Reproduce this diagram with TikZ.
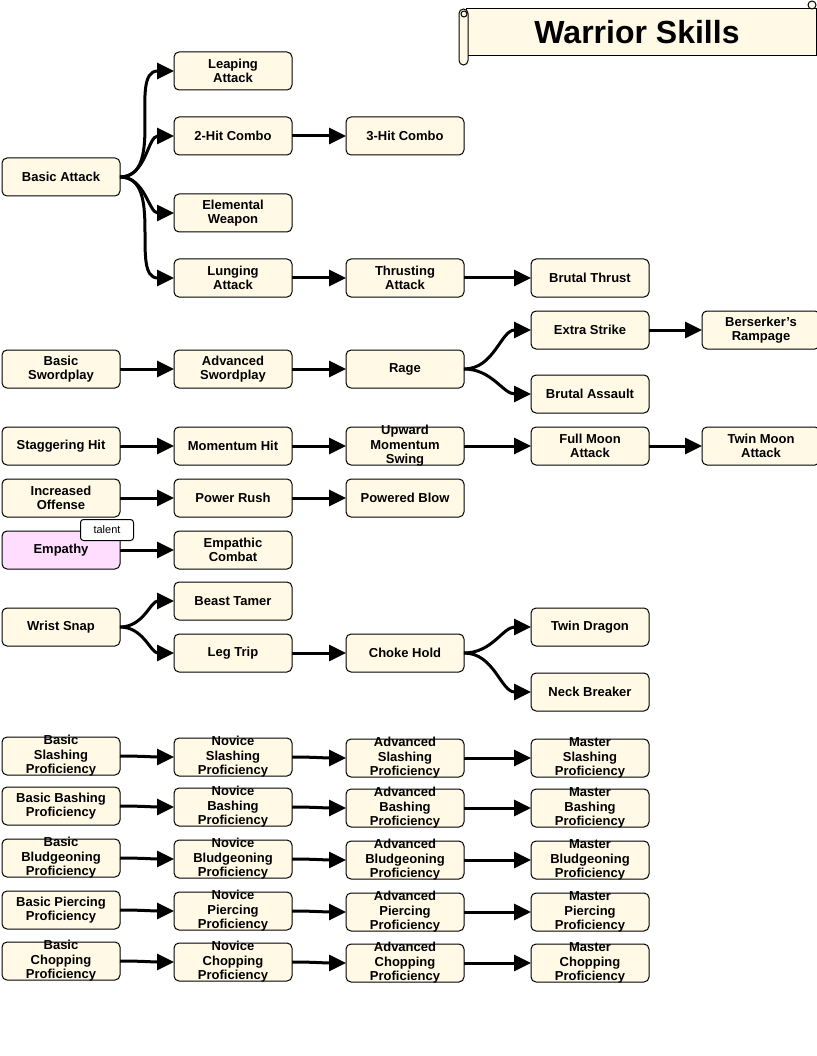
\documentclass[tikz,border=0pt]{standalone}
\usepackage{fontspec}
\setmainfont{Liberation Sans}
\usetikzlibrary{arrows.meta, positioning}
\definecolor{colorSkill}{HTML}{FFF9E6}
\definecolor{colorTalent}{HTML}{FFDDFF}
\newcommand{\tallText}[1]{\raisebox{-3.3pt}[0pt][0pt]{\begin{tabular}{@{}c@{}}#1\end{tabular}}}
\tikzset{skill/.style={draw, rounded corners=5pt, fill=colorSkill, line width=1pt, minimum width=118pt, minimum height=38pt, inner sep=1pt, outer sep=0pt, align=center, font=\bfseries\fontsize{13}{14.5}\selectfont}}
\tikzset{link/.style={line width=3pt, -{Triangle[length=17pt,width=16pt]}}}

\begin{document}
\begin{tikzpicture}[x=1pt, y=-1pt, node distance=54pt]
\useasboundingbox (0,0) rectangle (816,1056);
% title scroll
\draw[fill=colorSkill, line width=1pt] (466,9) -- (816,9) -- (816,56) -- (466,56) -- cycle;
\draw[fill=colorSkill, line width=1pt, rounded corners=4.5pt] (459,9) rectangle (468,65);
\draw[fill=colorSkill, line width=1pt] (464,14) circle (3);
\draw[fill=colorSkill, line width=1pt] (812,5) circle (4);
\node (title) at (637,32) {\fontsize{32}{36}\selectfont\bfseries Warrior Skills};
% basic attack
\node[skill] (basicAtk) at (61,177) {Basic Attack};
\node[skill] (leaping) at (233,71) {Leaping\\Attack};
\node[skill] (twoHit) at (233,136) {2-Hit Combo};
\node[skill, right=of twoHit] (threeHit) {3-Hit Combo};
\node[skill] (elemental) at (233,213) {Elemental\\Weapon};
\node[skill] (lunging) at (233,278) {Lunging\\Attack};
\node[skill, right=of lunging] (thrusting) {Thrusting\\Attack};
\node[skill, right=67pt of thrusting] (brutalThrust) {Brutal Thrust};
\draw[link] (basicAtk.east) to[out=0, in=180] (leaping.west);
\draw[link] (basicAtk.east) to[out=0, in=180] (twoHit.west);
\draw[link] (basicAtk.east) to[out=0, in=180] (elemental.west);
\draw[link] (basicAtk.east) to[out=0, in=180] (lunging.west);
\draw[link] (twoHit) -- (threeHit);
\draw[link] (lunging) -- (thrusting);
\draw[link] (thrusting) -- (brutalThrust);
% swordplay
\node[skill] (basicSword) at (61,369) {Basic\\Swordplay};
\node[skill, right=of basicSword] (advSword) {Advanced\\Swordplay};
\node[skill, right=of advSword] (rage) {Rage};
\node[skill] (extraStrike) at (590,330) {Extra Strike};
\node[skill, right=53pt of extraStrike] (berserker) {Berserker's\\Rampage};
\node[skill] (brutalAssault) at (590,394) {Brutal Assault};
\draw[link] (basicSword) -- (advSword);
\draw[link] (advSword) -- (rage);
\draw[link] (rage.east) to[out=0, in=180] (extraStrike.west);
\draw[link] (rage.east) to[out=0, in=180] (brutalAssault.west);
\draw[link] (extraStrike) -- (berserker);
% momentum
\node[skill] (stagger) at (61,446) {Staggering Hit};
\node[skill, right=of stagger] (momentum) {Momentum Hit};
\node[skill, right=of momentum] (upward) {\tallText{Upward\\Momentum\\Swing}};
\node[skill, right=67pt of upward] (fullMoon) {Full Moon\\Attack};
\node[skill, right=53pt of fullMoon] (twinMoon) {Twin Moon\\Attack};
\draw[link] (stagger) -- (momentum);
\draw[link] (momentum) -- (upward);
\draw[link] (upward) -- (fullMoon);
\draw[link] (fullMoon) -- (twinMoon);
% offense
\node[skill] (incOffense) at (61,498) {Increased\\Offense};
\node[skill, right=of incOffense] (powerRush) {Power Rush};
\node[skill, right=of powerRush] (poweredBlow) {Powered Blow};
\draw[link] (incOffense) -- (powerRush);
\draw[link] (powerRush) -- (poweredBlow);
% empathy
\node[skill, fill=colorTalent] (empathy) at (61,550) {Empathy};
\node[skill, right=of empathy] (empathic) {Empathic\\Combat};
\node[draw, fill=white, rounded corners=3pt, line width=1pt, minimum width=53pt, minimum height=21pt, inner sep=1pt, font=\fontsize{11}{13}\selectfont] (talent) at (107,530) {talent};
\draw[link] (empathy) -- (empathic);
% wrist snap
\node[skill] (wristSnap) at (61,627) {Wrist Snap};
\node[skill] (beastTamer) at (233,601) {Beast Tamer};
\node[skill] (legTrip) at (233,653) {Leg Trip};
\node[skill, right=of legTrip] (chokeHold) {Choke Hold};
\node[skill] (twinDragon) at (590,627) {Twin Dragon};
\node[skill] (neckBreaker) at (590,692) {Neck Breaker};
\draw[link] (wristSnap.east) to[out=0, in=180] (beastTamer.west);
\draw[link] (wristSnap.east) to[out=0, in=180] (legTrip.west);
\draw[link] (legTrip) -- (chokeHold);
\draw[link] (chokeHold.east) to[out=0, in=180] (twinDragon.west);
\draw[link] (chokeHold.east) to[out=0, in=180] (neckBreaker.west);
% proficiencies
\node[skill] (basicSlash) at (61,756) {\tallText{Basic\\Slashing\\Proficiency}};
\node[skill] (noviceSlash) at (233,757) {\tallText{Novice\\Slashing\\Proficiency}};
\node[skill] (advSlash) at (405,758) {\tallText{Advanced\\Slashing\\Proficiency}};
\node[skill] (masterSlash) at (590,758) {\tallText{Master\\Slashing\\Proficiency}};
\node[skill] (basicBash) at (61,806) {Basic Bashing\\Proficiency};
\node[skill] (noviceBash) at (233,807) {\tallText{Novice\\Bashing\\Proficiency}};
\node[skill] (advBash) at (405,808) {\tallText{Advanced\\Bashing\\Proficiency}};
\node[skill] (masterBash) at (590,808) {\tallText{Master\\Bashing\\Proficiency}};
\node[skill] (basicBludg) at (61,858) {\tallText{Basic\\Bludgeoning\\Proficiency}};
\node[skill] (noviceBludg) at (233,859) {\tallText{Novice\\Bludgeoning\\Proficiency}};
\node[skill] (advBludg) at (405,860) {\tallText{Advanced\\Bludgeoning\\Proficiency}};
\node[skill] (masterBludg) at (590,860) {\tallText{Master\\Bludgeoning\\Proficiency}};
\node[skill] (basicPierce) at (61,910) {Basic Piercing\\Proficiency};
\node[skill] (novicePierce) at (233,911) {\tallText{Novice\\Piercing\\Proficiency}};
\node[skill] (advPierce) at (405,912) {\tallText{Advanced\\Piercing\\Proficiency}};
\node[skill] (masterPierce) at (590,912) {\tallText{Master\\Piercing\\Proficiency}};
\node[skill] (basicChop) at (61,961) {\tallText{Basic\\Chopping\\Proficiency}};
\node[skill] (noviceChop) at (233,962) {\tallText{Novice\\Chopping\\Proficiency}};
\node[skill] (advChop) at (405,963) {\tallText{Advanced\\Chopping\\Proficiency}};
\node[skill] (masterChop) at (590,963) {\tallText{Master\\Chopping\\Proficiency}};
\draw[link] (basicSlash.east) to[out=0, in=180] (noviceSlash.west);
\draw[link] (noviceSlash.east) to[out=0, in=180] (advSlash.west);
\draw[link] (advSlash) -- (masterSlash);
\draw[link] (basicBash.east) to[out=0, in=180] (noviceBash.west);
\draw[link] (noviceBash.east) to[out=0, in=180] (advBash.west);
\draw[link] (advBash) -- (masterBash);
\draw[link] (basicBludg.east) to[out=0, in=180] (noviceBludg.west);
\draw[link] (noviceBludg.east) to[out=0, in=180] (advBludg.west);
\draw[link] (advBludg) -- (masterBludg);
\draw[link] (basicPierce.east) to[out=0, in=180] (novicePierce.west);
\draw[link] (novicePierce.east) to[out=0, in=180] (advPierce.west);
\draw[link] (advPierce) -- (masterPierce);
\draw[link] (basicChop.east) to[out=0, in=180] (noviceChop.west);
\draw[link] (noviceChop.east) to[out=0, in=180] (advChop.west);
\draw[link] (advChop) -- (masterChop);
\end{tikzpicture}
\end{document}
